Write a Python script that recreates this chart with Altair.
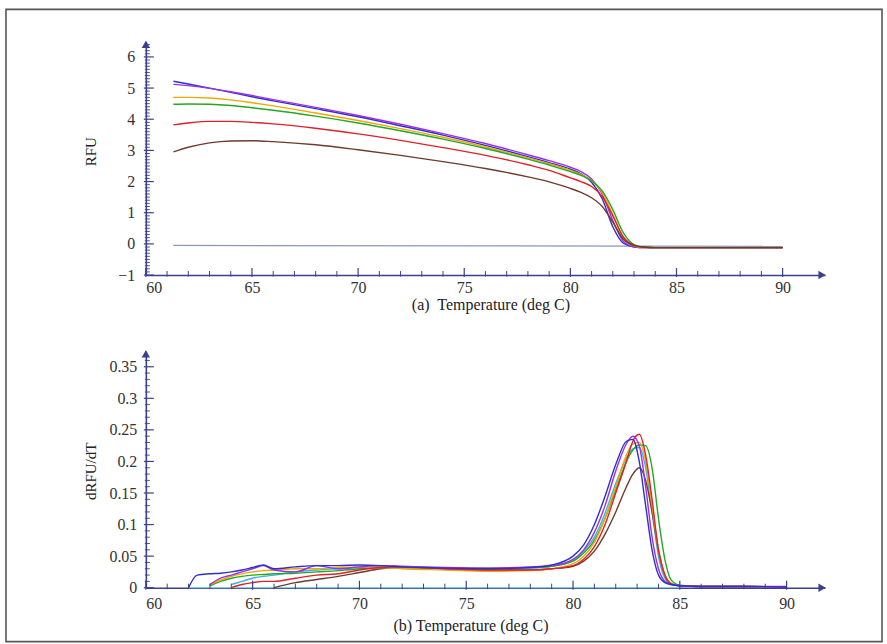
import altair as alt
import pandas as pd

# ---------------- data ----------------
SERIES = ["blue", "purple", "orange", "green", "red", "brown", "cyan"]
COLORS = ["#2f2fd0", "#9a30e8", "#f0a800", "#22a822", "#e0202a", "#6e3b2c", "#38b4e4"]

# (a) melt curves
T_TOP = [61.3, 62, 63, 64, 65, 66, 68, 70, 72, 74, 76, 78, 79, 80, 80.5, 81, 81.5, 82, 82.5, 83, 83.5, 84, 86, 88, 90]
RFU_BLUE = [5.22, 5.13, 5.0, 4.86, 4.72, 4.59, 4.34, 4.08, 3.79, 3.49, 3.16, 2.8, 2.61, 2.4, 2.25, 1.98, 1.45, 0.55, 0.02, -0.1, -0.12, -0.12, -0.12, -0.12, -0.12]
RFU_PURPLE = [5.12, 5.08, 4.99, 4.88, 4.76, 4.63, 4.38, 4.12, 3.84, 3.54, 3.22, 2.86, 2.67, 2.46, 2.32, 2.08, 1.6, 0.75, 0.08, -0.09, -0.12, -0.12, -0.12, -0.12, -0.12]
RFU_ORANGE = [4.7, 4.7, 4.68, 4.62, 4.53, 4.43, 4.2, 3.96, 3.7, 3.42, 3.11, 2.76, 2.57, 2.36, 2.23, 2.03, 1.65, 0.95, 0.2, -0.06, -0.12, -0.12, -0.12, -0.12, -0.12]
RFU_GREEN = [4.48, 4.49, 4.48, 4.44, 4.37, 4.29, 4.1, 3.88, 3.63, 3.36, 3.06, 2.72, 2.53, 2.32, 2.2, 2.02, 1.7, 1.1, 0.35, -0.02, -0.1, -0.12, -0.12, -0.12, -0.12]
RFU_RED = [3.82, 3.88, 3.93, 3.93, 3.9, 3.85, 3.71, 3.53, 3.32, 3.09, 2.84, 2.54, 2.36, 2.12, 2.0, 1.84, 1.52, 0.9, 0.22, -0.05, -0.11, -0.12, -0.12, -0.12, -0.12]
RFU_BROWN = [2.95, 3.1, 3.24, 3.3, 3.31, 3.28, 3.18, 3.02, 2.84, 2.64, 2.42, 2.15, 1.99, 1.78, 1.65, 1.48, 1.2, 0.7, 0.15, -0.05, -0.11, -0.12, -0.12, -0.12, -0.12]
T_CTRL_TOP = [61.3, 90]
RFU_CTRL = [-0.05, -0.08]

# (b) derivative curves
T_B = [62.0, 62.4, 63.0, 63.5, 64.0, 64.5, 65.0, 65.5, 66.0, 67.0, 68.0, 69.0, 70.0, 71.0, 72.0, 74.0,
       76.0, 78.0, 79.0, 80.0, 80.5, 81.0, 81.5, 82.0, 82.5, 82.8, 83.1, 83.4, 83.7, 84.0, 84.3, 84.6,
       85.0, 86.0, 88.0, 90.0]
D_BLUE = [0.0, 0.02, 0.022, 0.023, 0.025, 0.028, 0.032, 0.036, 0.03, 0.033, 0.035, 0.035, 0.036, 0.035, 0.033, 0.031,
          0.03, 0.032, 0.036, 0.05, 0.068, 0.1, 0.145, 0.195, 0.232, 0.235, 0.2, 0.13, 0.06, 0.02, 0.008, 0.005,
          0.003, 0.002, 0.002, 0.001]
D_PURPLE = [None, None, 0.005, 0.015, 0.02, 0.025, 0.03, 0.035, 0.028, 0.025, 0.035, 0.03, 0.033, 0.035, 0.034, 0.032,
            0.031, 0.033, 0.035, 0.045, 0.06, 0.088, 0.13, 0.185, 0.228, 0.24, 0.225, 0.16, 0.08, 0.03, 0.01, 0.005,
            0.003, 0.002, 0.002, 0.002]
D_ORANGE = [None, None, 0.005, 0.012, 0.018, 0.022, 0.025, 0.027, 0.028, 0.03, 0.03, 0.032, 0.033, 0.032, 0.03, 0.028,
            0.026, 0.027, 0.03, 0.038, 0.05, 0.072, 0.11, 0.16, 0.21, 0.228, 0.23, 0.2, 0.13, 0.06, 0.02, 0.007,
            0.003, 0.002, 0.002, 0.001]
D_GREEN = [None, None, 0.003, 0.01, 0.015, 0.018, 0.02, 0.021, 0.022, 0.023, 0.025, 0.027, 0.03, 0.032, 0.032, 0.031,
           0.031, 0.032, 0.034, 0.042, 0.055, 0.075, 0.11, 0.155, 0.2, 0.218, 0.226, 0.225, 0.19, 0.11, 0.045, 0.012,
           0.004, 0.002, 0.002, 0.001]
D_RED = [None, None, None, None, 0.0, 0.005, 0.008, 0.01, 0.01, 0.015, 0.02, 0.022, 0.028, 0.032, 0.033, 0.03,
         0.028, 0.028, 0.03, 0.035, 0.045, 0.065, 0.1, 0.15, 0.2, 0.232, 0.243, 0.21, 0.14, 0.06, 0.02, 0.006,
         0.003, 0.002, 0.002, 0.001]
D_BROWN = [None, None, None, None, None, None, None, None, 0.0, 0.008, 0.013, 0.018, 0.024, 0.03, 0.032, 0.03,
           0.028, 0.028, 0.03, 0.034, 0.042, 0.058, 0.085, 0.12, 0.16, 0.18, 0.19, 0.17, 0.12, 0.06, 0.02, 0.006,
           0.003, 0.002, 0.002, 0.001]
D_CYAN = [None, None, None, None, 0.005, 0.01, 0.015, 0.018, 0.02, 0.025, 0.028, 0.03, 0.032, 0.033, 0.033, 0.031,
          0.03, 0.031, 0.034, 0.043, 0.058, 0.08, 0.118, 0.165, 0.205, 0.22, 0.222, 0.19, 0.12, 0.05, 0.015, 0.005,
          0.003, 0.002, 0.002, 0.001]
T_CTRL_B = [62.0, 85.0]
D_CTRL = [0.0, 0.0]

X_LABELS = [60, 65, 70, 75, 80, 85, 90]
Y_LABELS_A = [-1, 0, 1, 2, 3, 4, 5, 6]
Y_LABELS_B = [0, 0.05, 0.1, 0.15, 0.2, 0.25, 0.3, 0.35]

# ---------------- build tables ----------------
def long_table(t, series):
    rows = []
    for order, (name, vals) in enumerate(series):
        for x, v in zip(t, vals):
            if v is not None:
                rows.append({"T": x, "v": v, "s": name, "o": order})
    return pd.DataFrame(rows)

df_top = long_table(T_TOP, [("blue", RFU_BLUE), ("purple", RFU_PURPLE), ("orange", RFU_ORANGE),
                            ("green", RFU_GREEN), ("red", RFU_RED), ("brown", RFU_BROWN)])
df_bot = long_table(T_B, [("cyan", D_CYAN), ("brown", D_BROWN), ("green", D_GREEN), ("orange", D_ORANGE),
                          ("red", D_RED), ("purple", D_PURPLE), ("blue", D_BLUE)])
df_ctrl_top = pd.DataFrame({"T": T_CTRL_TOP, "v": RFU_CTRL})
df_ctrl_bot = pd.DataFrame({"T": T_CTRL_B, "v": D_CTRL})

NAVY = "#3b3f8c"
FONT = "Liberation Serif, Times New Roman, serif"
W1, H1 = 680, 234
W2, H2 = 680, 237
one = pd.DataFrame({"a": [0]})

color_scale = alt.Scale(domain=SERIES, range=COLORS)


def panel(df, df_ctrl, ctrl_color, xdom, ydom, W, H, xtitle, ytitle, ytitle_y, xtitle_x, xtitle_y,
          xlabel_pad, ylabel_pad, ylabels, y_minor, y_major, ylabel_fmt, frame=False):
    xs = alt.Scale(domain=xdom, nice=False, zero=False)
    ys = alt.Scale(domain=ydom, nice=False, zero=False)
    xa = alt.Axis(
        values=X_LABELS, ticks=False, grid=False, domainColor=NAVY, domainWidth=1.6,
        labelPadding=xlabel_pad, labelFont=FONT, labelFontSize=16, labelColor="#333",
        title=xtitle, titleFont=FONT, titleFontSize=16, titleFontWeight="normal", titleColor="#222",
        titleX=xtitle_x, titleY=xtitle_y, titleBaseline="alphabetic", titleAlign="center")
    ya = alt.Axis(
        values=ylabels, ticks=False, grid=False, domainColor=NAVY, domainWidth=1.6,
        labelPadding=ylabel_pad, labelFont=FONT, labelFontSize=16, labelColor="#333", format=ylabel_fmt,
        title=ytitle, titleFont=FONT, titleFontSize=15, titleFontWeight="normal", titleColor="#222",
        titleX=-55, titleY=ytitle_y, titleAngle=270, titleBaseline="middle", titleAlign="center")
    X = lambda f: alt.X(f, scale=xs, axis=xa, title=xtitle)
    Y = lambda f: alt.Y(f, scale=ys, axis=ya, title=ytitle)

    ctrl = alt.Chart(df_ctrl).mark_line(color=ctrl_color, strokeWidth=1.2).encode(
        x=X("T:Q"), y=Y("v:Q"))
    lines = alt.Chart(df).mark_line(strokeWidth=1.4, interpolate="monotone").encode(
        x=X("T:Q"), y=Y("v:Q"),
        color=alt.Color("s:N", scale=color_scale, legend=None),
        detail="o:O",
    )
    x_minor = [v for v in range(int(xdom[0]), 91) if v % 5 != 0]
    xt_min = alt.Chart(pd.DataFrame({"T": x_minor})).mark_rule(color=NAVY, strokeWidth=1).encode(
        x=X("T:Q"), y=alt.value(H + 1.5), y2=alt.value(H - 4))
    xt_maj = alt.Chart(pd.DataFrame({"T": X_LABELS})).mark_rule(color=NAVY, strokeWidth=1.2).encode(
        x=X("T:Q"), y=alt.value(H + 2), y2=alt.value(H - 7))
    yt_min = alt.Chart(pd.DataFrame({"v": y_minor})).mark_rule(color=NAVY, strokeWidth=0.9).encode(
        y=Y("v:Q"), x=alt.value(-1), x2=alt.value(4))
    yt_maj = alt.Chart(pd.DataFrame({"v": y_major})).mark_rule(color=NAVY, strokeWidth=1.2).encode(
        y=Y("v:Q"), x=alt.value(-2), x2=alt.value(8))
    arrow_up = alt.Chart(one).mark_point(shape="triangle-up", filled=True, size=70, color=NAVY,
                                         opacity=1).encode(x=alt.value(0), y=alt.value(3))
    arrow_rt = alt.Chart(one).mark_point(shape="triangle-right", filled=True, size=70, color=NAVY,
                                         opacity=1).encode(x=alt.value(W - 3), y=alt.value(H))
    layers = [ctrl, lines, xt_min, xt_maj, yt_min, yt_maj, arrow_up, arrow_rt]
    if frame:
        fr = alt.Chart(one).mark_rect(fillOpacity=0, stroke="#555555", strokeWidth=1.6).encode(
            x=alt.value(-140), x2=alt.value(737), y=alt.value(-32), y2=alt.value(601))
        layers.append(fr)
    return alt.layer(*layers).properties(width=W, height=H)


y_minor_a = [round(-1 + i * 0.1, 2) for i in range(0, 75) if i % 10 != 0]
y_minor_b = [round(i * 0.01, 3) for i in range(0, 37) if i % 5 != 0]

top = panel(df_top, df_ctrl_top, "#8a97b8", [60, 92], [-1, 6.5], W1, H1,
            "(a)\u00a0 Temperature (deg C)", "RFU", 110, 345, 34, 4, 11,
            Y_LABELS_A, y_minor_a, Y_LABELS_A, "d", frame=True)
bottom = panel(df_bot, df_ctrl_bot, "#7fd0e0", [60, 91.8], [0, 0.375], W2, H2,
               "(b) Temperature (deg C)", "dRFU/dT", 120, 325, 43, 8, 9,
               Y_LABELS_B, y_minor_b, Y_LABELS_B, "~g")

chart = alt.vconcat(top, bottom, spacing=76, bounds="flush").properties(
    padding={"left": 5, "top": 8, "right": 4, "bottom": 1},
    background="white",
).configure(font=FONT).configure_view(stroke=None)

chart.save("out.html", embed_options={"renderer": "svg", "actions": False})
